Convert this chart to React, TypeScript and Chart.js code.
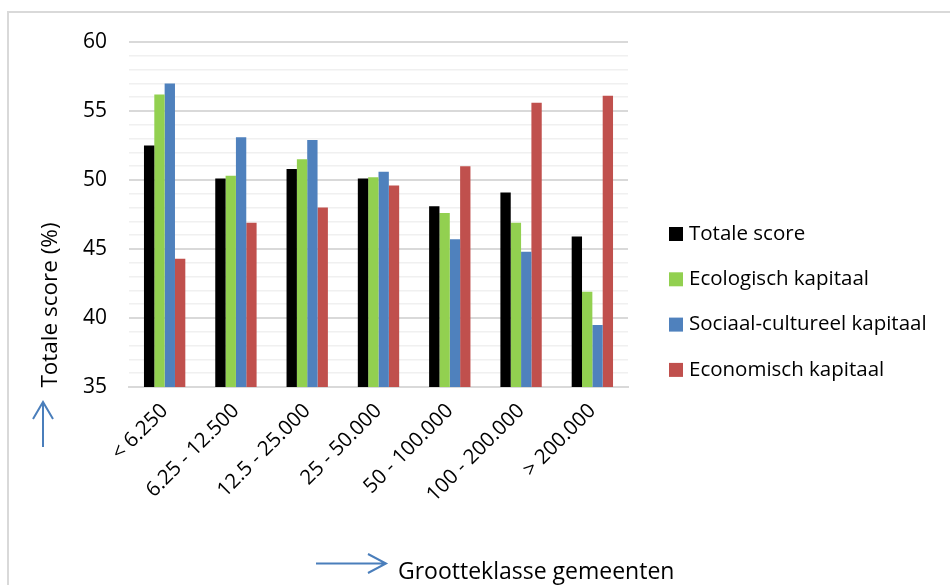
import { useEffect, useRef } from "react";
import { Chart, registerables } from "chart.js";

Chart.register(...registerables);

const categories = [
  "< 6.250",
  "6.25 - 12.500",
  "12.5 - 25.000",
  "25 - 50.000",
  "50 - 100.000",
  "100 - 200.000",
  "> 200.000",
];
const seriesNames = [
  "Totale score",
  "Ecologisch kapitaal",
  "Sociaal-cultureel kapitaal",
  "Economisch kapitaal",
];
const totaleScore = [52.5, 50.1, 50.8, 50.1, 48.1, 49.1, 45.9];
const ecologischKapitaal = [56.2, 50.3, 51.5, 50.2, 47.6, 46.9, 41.9];
const sociaalCultureelKapitaal = [57.0, 53.1, 52.9, 50.6, 45.7, 44.8, 39.5];
const economischKapitaal = [44.3, 46.9, 48.0, 49.6, 51.0, 55.6, 56.1];
const seriesColors = ["#000000", "#92d050", "#4f81bd", "#c0504d"];
const yMin = 35;
const yMax = 60;
const yMajorStep = 5;
const yTitle = "Totale score (%)";
const xTitle = "Grootteklasse gemeenten";

const FONT = "'Open Sans', sans-serif";
const ARROW = "#4a7ebb";

const decorPlugin = {
  id: "decor",
  afterDraw(chart: any) {
    const ctx = chart.ctx as CanvasRenderingContext2D;
    ctx.save();
    // frame
    ctx.strokeStyle = "#d9d9d9";
    ctx.lineWidth = 2;
    ctx.beginPath();
    ctx.moveTo(8, 585);
    ctx.lineTo(8, 12);
    ctx.lineTo(950, 12);
    ctx.stroke();

    // y title
    ctx.fillStyle = "#000";
    ctx.font = `22.5px ${FONT}`;
    ctx.textAlign = "center";
    ctx.textBaseline = "middle";
    ctx.save();
    ctx.translate(51, 305);
    ctx.rotate(-Math.PI / 2);
    ctx.fillText(yTitle, 0, 0);
    ctx.restore();

    // x title
    ctx.textAlign = "left";
    ctx.font = `23px ${FONT}`;
    ctx.fillText(xTitle, 398, 572);

    // arrows
    ctx.strokeStyle = ARROW;
    ctx.lineWidth = 2;
    ctx.beginPath();
    ctx.moveTo(43, 447);
    ctx.lineTo(43, 402);
    ctx.moveTo(33, 419);
    ctx.lineTo(43, 402);
    ctx.lineTo(53, 419);
    ctx.moveTo(316, 563.5);
    ctx.lineTo(386, 563.5);
    ctx.moveTo(368, 554);
    ctx.lineTo(386, 563.5);
    ctx.lineTo(368, 573);
    ctx.stroke();

    // legend
    ctx.font = `20.5px ${FONT}`;
    ctx.textBaseline = "middle";
    chart.data.datasets.forEach((ds: any, i: number) => {
      const cy = 234 + i * 45.3;
      ctx.fillStyle = ds.backgroundColor;
      ctx.fillRect(669, cy - 7, 14, 14);
      ctx.fillStyle = "#000";
      ctx.fillText(ds.label, 689, cy);
    });
    ctx.restore();
  },
};

export default function App() {
  const ref = useRef<HTMLCanvasElement | null>(null);
  useEffect(() => {
    if (!ref.current) return;
    const values = [totaleScore, ecologischKapitaal, sociaalCultureelKapitaal, economischKapitaal];
    const chart = new Chart(ref.current, {
      type: "bar",
      data: {
        labels: categories,
        datasets: seriesNames.map((name, i) => ({
          label: name,
          data: values[i],
          backgroundColor: seriesColors[i],
          borderWidth: 0,
          categoryPercentage: 0.58,
          barPercentage: 1,
        })),
      },
      options: {
        animation: false,
        responsive: false,
        maintainAspectRatio: false,
        layout: { padding: { top: 42, right: 322, left: 0, bottom: 0 } },
        plugins: {
          legend: { display: false },
          tooltip: { enabled: false },
        },
        scales: {
          x: {
            grid: { display: false, drawTicks: false },
            border: { display: true, color: "#d9d9d9", width: 2 },
            ticks: {
              color: "#000",
              font: { family: FONT, size: 20.5 },
              minRotation: 45,
              maxRotation: 45,
              autoSkip: false,
              padding: 12,
            },
            afterFit(scale: any) {
              scale.height = 198;
            },
          },
          y: {
            min: yMin,
            max: yMax,
            grid: {
              drawTicks: false,
              color: (c: any) => (c.tick && c.tick.value % yMajorStep === 0 ? "#d9d9d9" : "#f0f0f0"),
              lineWidth: (c: any) => (c.tick && c.tick.value % yMajorStep === 0 ? 2 : 1.5),
            },
            border: { display: false },
            ticks: {
              stepSize: 1,
              autoSkip: false,
              color: "#000",
              font: { family: FONT, size: 21 },
              padding: 22,
              callback: (v: any) => (Number(v) % yMajorStep === 0 ? String(v) : ""),
            },
            afterFit(scale: any) {
              scale.width = 129;
            },
          },
        },
      },
      plugins: [decorPlugin],
    });
    return () => chart.destroy();
  }, []);
  return (
    <div style={{ position: "absolute", left: 0, top: 0, width: 950, height: 585, background: "#fff" }}>
      <canvas ref={ref} width={950} height={585} style={{ width: 950, height: 585, display: "block" }} />
    </div>
  );
}
